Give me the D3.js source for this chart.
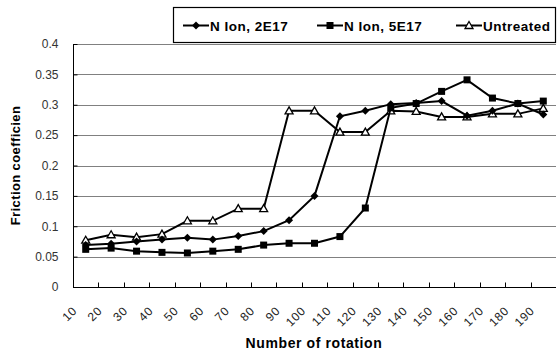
<!DOCTYPE html>
<html>
<head>
<meta charset="utf-8">
<script src="https://cdn.jsdelivr.net/npm/d3@7"></script>
<style>
  body { margin: 0; background: #fff; }
  svg { display: block; }
  .tick text { font-family: "Liberation Sans", Arial, sans-serif; font-size: 12px; fill: #333; }
</style>
</head>
<body>
<svg width="557" height="356"></svg>
<script>
var rotations = [10, 20, 30, 40, 50, 60, 70, 80, 90, 100, 110, 120, 130, 140, 150, 160, 170, 180, 190];
var ion2E17 = [0.069, 0.071, 0.075, 0.078, 0.081, 0.078, 0.084, 0.092, 0.11, 0.15, 0.281, 0.29, 0.301, 0.303, 0.306, 0.282, 0.29, 0.302, 0.284];
var ion5E17 = [0.062, 0.064, 0.059, 0.057, 0.056, 0.059, 0.062, 0.069, 0.072, 0.072, 0.083, 0.13, 0.295, 0.302, 0.322, 0.341, 0.311, 0.302, 0.306];
var untreated = [0.077, 0.086, 0.082, 0.087, 0.109, 0.109, 0.129, 0.129, 0.29, 0.29, 0.255, 0.255, 0.29, 0.289, 0.28, 0.28, 0.285, 0.285, 0.294];
var yTicks = [0, 0.05, 0.1, 0.15, 0.2, 0.25, 0.3, 0.35, 0.4];
var seriesNames = ["N Ion, 2E17", "N Ion, 5E17", "Untreated"];

var series = [
  {name: seriesNames[0], values: ion2E17, shape: "diamond"},
  {name: seriesNames[1], values: ion5E17, shape: "square"},
  {name: seriesNames[2], values: untreated, shape: "triangle"}
];

var margin = {left: 73, right: 1, top: 44, bottom: 69};
var svg = d3.select("svg");
var W = 557, H = 356;
var FONT = "Liberation Sans, Arial, sans-serif";

var x = d3.scaleBand().domain(rotations).range([margin.left, W - margin.right]);
var y = d3.scaleLinear().domain([0, 0.4]).range([H - margin.bottom, margin.top]);

// gridlines
svg.append("g").selectAll("line")
  .data(yTicks.slice(1))
  .join("line")
  .attr("x1", margin.left).attr("x2", W - margin.right)
  .attr("y1", d => Math.round(y(d)) + 0.5).attr("y2", d => Math.round(y(d)) + 0.5)
  .attr("stroke", "#808080").attr("stroke-width", 1.2);

// y axis
var yAxis = svg.append("g")
  .attr("transform", "translate(" + (margin.left + 0.5) + ",0)")
  .call(d3.axisLeft(y).tickValues(yTicks).tickSize(5).tickFormat(d3.format("~g")));
yAxis.select(".domain").attr("stroke", "#000").attr("d", "M0," + y(0.4) + "V" + y(0));
yAxis.selectAll(".tick line").attr("x2", 4);
yAxis.selectAll(".tick text").attr("x", -15);

// x axis, ticks between categories
var xAxisG = svg.append("g")
  .attr("transform", "translate(0," + (Math.round(y(0)) + 0.5) + ")");
xAxisG.append("line")
  .attr("x1", margin.left).attr("x2", W - margin.right)
  .attr("stroke", "#000");
xAxisG.selectAll(".xt")
  .data(rotations.slice(1))
  .join("line")
  .attr("x1", d => Math.round(x(d)) + 0.5).attr("x2", d => Math.round(x(d)) + 0.5)
  .attr("y1", -5).attr("y2", 0)
  .attr("stroke", "#000");
xAxisG.selectAll("text")
  .data(rotations)
  .join("text")
  .attr("transform", d => "translate(" + (x(d) + x.bandwidth() / 2 - 8) + ",24) rotate(-45)")
  .attr("text-anchor", "end")
  .attr("font-family", FONT)
  .attr("font-size", 12)
  .attr("letter-spacing", 0.8)
  .attr("fill", "#222")
  .text(d => d);

// lines and markers
var line = d3.line()
  .x((d, i) => x(rotations[i]) + x.bandwidth() / 2)
  .y(d => y(d));

function marker(g, shape, cx, cy) {
  if (shape === "diamond") {
    g.append("path").attr("d", "M" + cx + "," + (cy - 4) + "L" + (cx + 4) + "," + cy + "L" + cx + "," + (cy + 4) + "L" + (cx - 4) + "," + cy + "Z")
      .attr("fill", "#000");
  } else if (shape === "square") {
    g.append("rect").attr("x", cx - 3.5).attr("y", cy - 3.5).attr("width", 7).attr("height", 7).attr("fill", "#000");
  } else {
    g.append("path").attr("d", "M" + cx + "," + (cy - 4) + "L" + (cx + 4) + "," + (cy + 3) + "L" + (cx - 4) + "," + (cy + 3) + "Z")
      .attr("fill", "#fff").attr("stroke", "#000").attr("stroke-width", 1.3);
  }
}

series.slice().reverse().forEach(function(s) {
  var g = svg.append("g");
  g.append("path").datum(s.values)
    .attr("d", line)
    .attr("fill", "none").attr("stroke", "#000").attr("stroke-width", 2);
  s.values.forEach(function(v, i) {
    marker(g, s.shape, x(rotations[i]) + x.bandwidth() / 2, y(v));
  });
});

// axis titles
svg.append("text")
  .attr("transform", "translate(20," + (y(0.2)) + ") rotate(-90)")
  .attr("text-anchor", "middle")
  .attr("font-family", FONT)
  .attr("font-weight", "bold").attr("font-size", 13)
  .attr("letter-spacing", 0.4)
  .text("Friction coefficien");

svg.append("text")
  .attr("x", 314).attr("y", 348)
  .attr("text-anchor", "middle")
  .attr("font-family", FONT)
  .attr("font-weight", "bold").attr("font-size", 14)
  .attr("letter-spacing", 0.6)
  .text("Number of rotation");

// legend
var legend = svg.append("g");
legend.append("rect")
  .attr("x", 173.5).attr("y", 7.5).attr("width", 382).attr("height", 35)
  .attr("fill", "#fff").attr("stroke", "#000").attr("stroke-width", 1.2);
var legX = [183, 317, 456];
series.forEach(function(s, i) {
  var g = legend.append("g");
  g.append("line").attr("x1", legX[i]).attr("x2", legX[i] + 26).attr("y1", 25.5).attr("y2", 25.5)
    .attr("stroke", "#000").attr("stroke-width", 2);
  marker(g, s.shape, legX[i] + 13, 25.5);
  g.append("text").attr("x", legX[i] + 27).attr("y", 30.5)
    .attr("font-family", FONT)
    .attr("font-weight", "bold").attr("font-size", 13.5)
    .attr("letter-spacing", 0.5)
    .text(s.name);
});
</script>
</body>
</html>
